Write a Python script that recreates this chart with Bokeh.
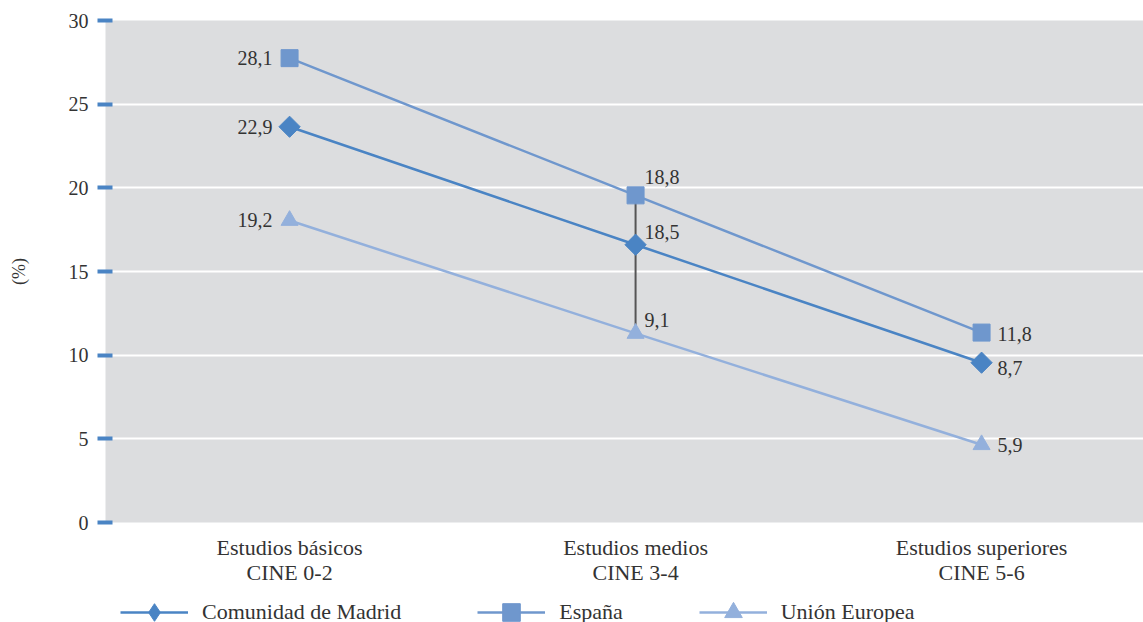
from bokeh.plotting import figure
from bokeh.layouts import column
from bokeh.models import (ColumnDataSource, FixedTicker, Legend, LegendItem, LinearAxis, Range1d)
from bokeh.core.properties import value
from bokeh.embed import file_html
from bokeh.resources import INLINE

categories = ["Estudios básicos\nCINE 0-2", "Estudios medios\nCINE 3-4", "Estudios superiores\nCINE 5-6"]
series = ["Comunidad de Madrid", "España", "Unión Europea"]
madrid = [23.65, 16.6, 9.55]
espana = [27.75, 19.55, 11.35]
ue = [18.05, 11.3, 4.65]
madrid_lbl = ["22,9", "18,5", "8,7"]
espana_lbl = ["28,1", "18,8", "11,8"]
ue_lbl = ["19,2", "9,1", "5,9"]
y_ticks = [0, 5, 10, 15, 20, 25, 30]

FONT = "Liberation Serif"
TXT = "#333333"
colors = ["#4a84c4", "#6f97cd", "#93b0dc"]
markers = ["square", "square", "triangle"]
legend_markers = ["diamond", "square", "triangle"]
angles = [45, 0, 0]
msize = [15, 17, 17]

xs = [0, 1, 2]
p = figure(frame_width=1038, frame_height=502, x_range=Range1d(-0.532, 2.468), y_range=Range1d(0, 30),
           output_backend="svg", toolbar_location=None, min_border_left=105, min_border_right=0,
           min_border_top=20, min_border_bottom=70, x_axis_location=None, y_axis_location=None,
           background_fill_color="#dcdddf", border_fill_color="white", outline_line_color=None)

# axes
ya = LinearAxis(ticker=FixedTicker(ticks=y_ticks), axis_line_color=None,
                major_tick_line_color="#4a84c4", major_tick_line_width=4,
                major_tick_in=7, major_tick_out=8, minor_tick_line_color=None,
                major_label_text_font=FONT, major_label_text_font_size="20px",
                major_label_text_color=TXT, major_label_standoff=9,
                axis_label="(%)", axis_label_text_font=FONT, axis_label_text_font_size="18px",
                axis_label_text_font_style="normal", axis_label_text_color=TXT, axis_label_standoff=37)
p.add_layout(ya, "left")
xa = LinearAxis(ticker=FixedTicker(ticks=xs), axis_line_color=None, major_tick_line_color=None,
                minor_tick_line_color=None, major_label_overrides={i: c for i, c in enumerate(categories)},
                major_label_text_font=FONT, major_label_text_font_size="22px",
                major_label_text_color=TXT, major_label_standoff=6,
                major_label_text_line_height=1.0)
p.add_layout(xa, "below")

p.xgrid.grid_line_color = None
p.ygrid.ticker = FixedTicker(ticks=y_ticks)
p.ygrid.grid_line_color = "white"
p.ygrid.grid_line_width = 2

# high-low line at middle category
p.segment(x0=[xs[1]], y0=[espana[1]], x1=[xs[1]], y1=[ue[1]], line_color="#555555", line_width=2)

order = [(madrid, madrid_lbl), (espana, espana_lbl), (ue, ue_lbl)]
for k, (vals, lbls) in enumerate(order):
    src = ColumnDataSource(dict(x=xs, y=vals, lbl=lbls))
    p.line("x", "y", source=src, line_color=colors[k], line_width=2.5)
    p.scatter("x", "y", source=src, marker=markers[k], size=msize[k], fill_color=colors[k],
              line_color=colors[k], angle=angles[k], angle_units="deg")

# data labels
lab_font_size = "20px"
def add_labels(vals, lbls, idx, xoff, yoff, align):
    p.text(x=[xs[idx]], y=[vals[idx]], text=[lbls[idx]], x_offset=xoff, y_offset=yoff,
           text_align=align, text_baseline="middle", text_font=value(FONT),
           text_font_size=lab_font_size, text_color=TXT)

# first category: left of marker
for vals, lbls in order:
    add_labels(vals, lbls, 0, -17, 0, "right")
# middle category: upper right
add_labels(espana, espana_lbl, 1, 9, -18, "left")
add_labels(madrid, madrid_lbl, 1, 9, -13, "left")
add_labels(ue, ue_lbl, 1, 9, -13, "left")
# last category: right
add_labels(espana, espana_lbl, 2, 16, 1, "left")
add_labels(madrid, madrid_lbl, 2, 16, 5, "left")
add_labels(ue, ue_lbl, 2, 16, 0, "left")

# legend strip below the chart (proxy renderers kept outside the visible range)
leg = figure(width=1143, height=30, x_range=Range1d(0, 1), y_range=Range1d(0, 1),
             output_backend="svg", toolbar_location=None, min_border=0,
             x_axis_location=None, y_axis_location=None, outline_line_color=None)
leg.grid.visible = False
items = []
for k in range(3):
    esrc = ColumnDataSource(dict(x=[-10, -11], y=[-10, -10]))
    ln = leg.line("x", "y", source=esrc, line_color=colors[k], line_width=2.5)
    sc = leg.scatter("x", "y", source=esrc, marker=legend_markers[k], size=msize[k], fill_color=colors[k],
                     line_color=colors[k])
    items.append(LegendItem(label=series[k], renderers=[ln, sc]))
legend = Legend(items=items, orientation="horizontal", location=(15, -12), margin=0, padding=0,
                glyph_width=68, glyph_height=44, label_standoff=14, spacing=76,
                label_text_font=FONT, label_text_font_size="22px", label_text_color=TXT,
                border_line_color=None, background_fill_alpha=0)
leg.add_layout(legend, "center")

open("out.html", "w").write(file_html(column(p, leg, spacing=0), INLINE))
